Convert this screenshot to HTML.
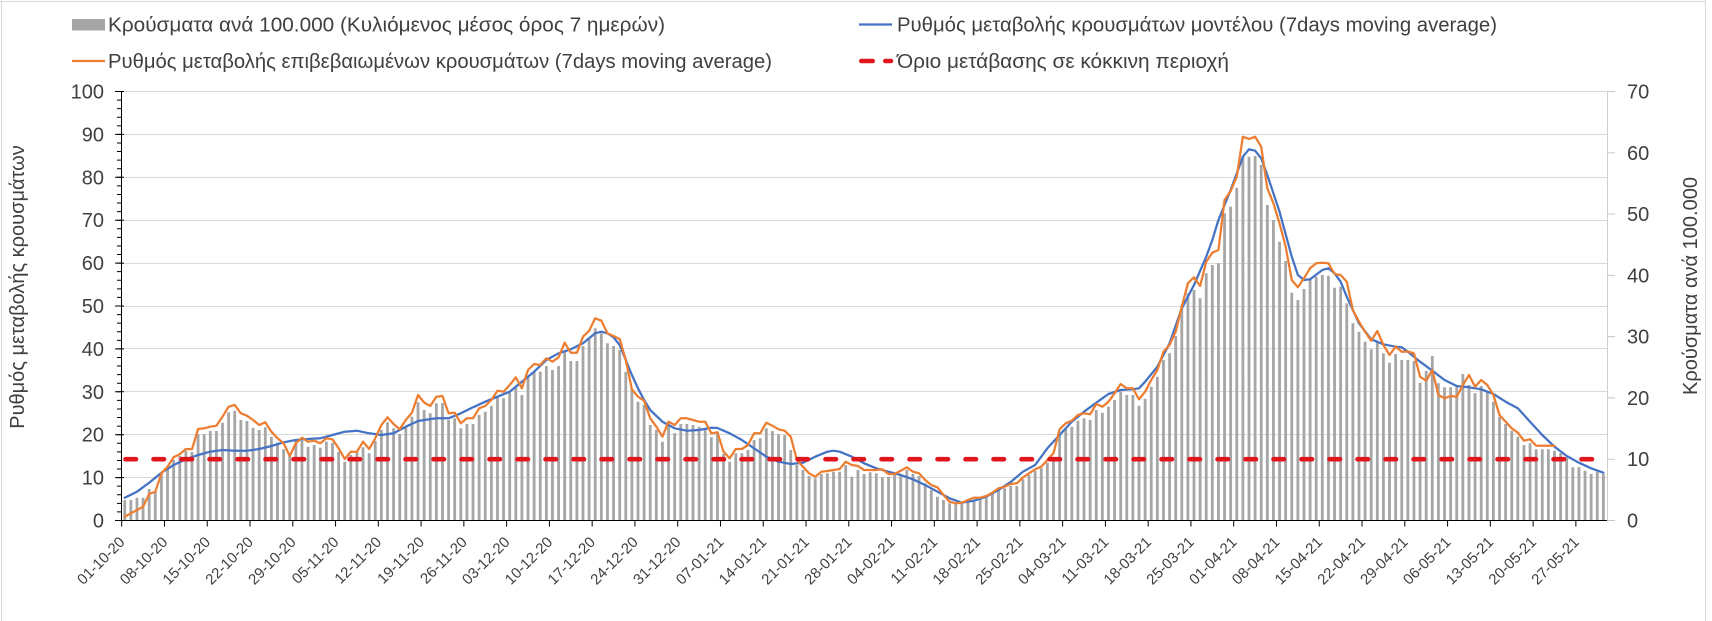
<!DOCTYPE html>
<html><head><meta charset="utf-8">
<style>
html,body{margin:0;padding:0;background:#fff;width:1712px;height:621px;overflow:hidden}
svg{display:block}
text{font-family:"Liberation Sans","DejaVu Sans",sans-serif;fill:#404040}
</style></head>
<body>
<svg width="1712" height="621" viewBox="0 0 1712 621" xmlns="http://www.w3.org/2000/svg">
<rect x="0" y="0" width="1712" height="621" fill="#fff"/>
<!-- frame -->
<path d="M1.5 0V621M0 1.5H1706M1705.5 0V621" stroke="#d9d9d9" stroke-width="1" fill="none"/>

<!-- gridlines -->
<path d="M121.7 477.5H1607M121.7 434.5H1607M121.7 391.5H1607M121.7 348.5H1607M121.7 306.5H1607M121.7 263.5H1607M121.7 220.5H1607M121.7 177.5H1607M121.7 134.5H1607M121.7 91.5H1607" stroke="#d9d9d9" stroke-width="1" fill="none"/>

<g transform="translate(121.7,0) scale(6.11,1)">
<path fill="#a6a6a6" d="M0.27 520.5V500h.46V520.5zm1 0V500h.46V520.5zm1 0V497.7h.46V520.5zm1 0V497.7h.46V520.5zm1 0V489h.46V520.5zm1 0V491.7h.46V520.5zm1 0V473.3h.46V520.5zm1 0V468.3h.46V520.5zm1 0V460h.46V520.5zm1 0V456h.46V520.5zm1 0V451h.46V520.5zm1 0V452h.46V520.5zm1 0V434h.46V520.5zm1 0V434h.46V520.5zm1 0V431h.46V520.5zm1 0V431h.46V520.5zm1 0V422.7h.46V520.5zm1 0V412.3h.46V520.5zm1 0V410.7h.46V520.5zm1 0V420h.46V520.5zm1 0V421h.46V520.5zm1 0V427.7h.46V520.5zm1 0V430h.46V520.5zm1 0V427.3h.46V520.5zm1 0V436.7h.46V520.5zm1 0V442.7h.46V520.5zm1 0V449.3h.46V520.5zm1 0V456h.46V520.5zm1 0V440h.46V520.5zm1 0V441h.46V520.5zm1 0V446.7h.46V520.5zm1 0V445h.46V520.5zm1 0V447.7h.46V520.5zm1 0V441.7h.46V520.5zm1 0V442.7h.46V520.5zm1 0V451.7h.46V520.5zm1 0V461.7h.46V520.5zm1 0V455h.46V520.5zm1 0V451.7h.46V520.5zm1 0V447.3h.46V520.5zm1 0V453.3h.46V520.5zm1 0V441h.46V520.5zm1 0V430h.46V520.5zm1 0V422.3h.46V520.5zm1 0V428.3h.46V520.5zm1 0V434.3h.46V520.5zm1 0V426h.46V520.5zm1 0V416.7h.46V520.5zm1 0V402.3h.46V520.5zm1 0V410h.46V520.5zm1 0V413.3h.46V520.5zm1 0V403.3h.46V520.5zm1 0V403h.46V520.5zm1 0V420h.46V520.5zm1 0V418.3h.46V520.5zm1 0V428.3h.46V520.5zm1 0V424h.46V520.5zm1 0V424h.46V520.5zm1 0V415h.46V520.5zm1 0V411.7h.46V520.5zm1 0V406h.46V520.5zm1 0V396.7h.46V520.5zm1 0V398.3h.46V520.5zm1 0V392.7h.46V520.5zm1 0V387.3h.46V520.5zm1 0V395h.46V520.5zm1 0V377.3h.46V520.5zm1 0V371.7h.46V520.5zm1 0V371.7h.46V520.5zm1 0V366h.46V520.5zm1 0V370h.46V520.5zm1 0V366h.46V520.5zm1 0V351.7h.46V520.5zm1 0V361h.46V520.5zm1 0V361h.46V520.5zm1 0V346h.46V520.5zm1 0V338.3h.46V520.5zm1 0V328.3h.46V520.5zm1 0V333.3h.46V520.5zm1 0V343.3h.46V520.5zm1 0V346h.46V520.5zm1 0V350h.46V520.5zm1 0V371.7h.46V520.5zm1 0V389.3h.46V520.5zm1 0V401.7h.46V520.5zm1 0V405h.46V520.5zm1 0V425h.46V520.5zm1 0V430h.46V520.5zm1 0V441.7h.46V520.5zm1 0V425h.46V520.5zm1 0V433.3h.46V520.5zm1 0V424h.46V520.5zm1 0V424h.46V520.5zm1 0V425h.46V520.5zm1 0V426.7h.46V520.5zm1 0V428.3h.46V520.5zm1 0V437.3h.46V520.5zm1 0V431.7h.46V520.5zm1 0V454h.46V520.5zm1 0V461.7h.46V520.5zm1 0V453.3h.46V520.5zm1 0V453.3h.46V520.5zm1 0V450h.46V520.5zm1 0V440h.46V520.5zm1 0V438.3h.46V520.5zm1 0V428.3h.46V520.5zm1 0V431h.46V520.5zm1 0V434h.46V520.5zm1 0V435h.46V520.5zm1 0V450h.46V520.5zm1 0V465h.46V520.5zm1 0V470h.46V520.5zm1 0V476h.46V520.5zm1 0V478.3h.46V520.5zm1 0V474h.46V520.5zm1 0V473.3h.46V520.5zm1 0V471.7h.46V520.5zm1 0V471.7h.46V520.5zm1 0V465h.46V520.5zm1 0V476.7h.46V520.5zm1 0V470h.46V520.5zm1 0V474h.46V520.5zm1 0V472.3h.46V520.5zm1 0V473.3h.46V520.5zm1 0V477.3h.46V520.5zm1 0V476.7h.46V520.5zm1 0V475h.46V520.5zm1 0V474h.46V520.5zm1 0V470h.46V520.5zm1 0V474h.46V520.5zm1 0V476h.46V520.5zm1 0V483.3h.46V520.5zm1 0V490h.46V520.5zm1 0V496.7h.46V520.5zm1 0V500h.46V520.5zm1 0V503.3h.46V520.5zm1 0V503.3h.46V520.5zm1 0V503.3h.46V520.5zm1 0V502.3h.46V520.5zm1 0V501.7h.46V520.5zm1 0V498.3h.46V520.5zm1 0V496.7h.46V520.5zm1 0V493.3h.46V520.5zm1 0V488.3h.46V520.5zm1 0V488.3h.46V520.5zm1 0V486h.46V520.5zm1 0V486h.46V520.5zm1 0V479.3h.46V520.5zm1 0V475h.46V520.5zm1 0V471h.46V520.5zm1 0V468.3h.46V520.5zm1 0V462.7h.46V520.5zm1 0V458.3h.46V520.5zm1 0V435h.46V520.5zm1 0V428.3h.46V520.5zm1 0V426.7h.46V520.5zm1 0V420.7h.46V520.5zm1 0V418.3h.46V520.5zm1 0V420h.46V520.5zm1 0V410h.46V520.5zm1 0V412.7h.46V520.5zm1 0V406.7h.46V520.5zm1 0V400h.46V520.5zm1 0V391.7h.46V520.5zm1 0V395h.46V520.5zm1 0V395h.46V520.5zm1 0V405.7h.46V520.5zm1 0V398.7h.46V520.5zm1 0V386.7h.46V520.5zm1 0V376.7h.46V520.5zm1 0V360h.46V520.5zm1 0V353.3h.46V520.5zm1 0V336h.46V520.5zm1 0V305h.46V520.5zm1 0V293.3h.46V520.5zm1 0V290h.46V520.5zm1 0V298.3h.46V520.5zm1 0V273.3h.46V520.5zm1 0V265h.46V520.5zm1 0V263.3h.46V520.5zm1 0V213.3h.46V520.5zm1 0V206.7h.46V520.5zm1 0V187.7h.46V520.5zm1 0V156.7h.46V520.5zm1 0V156.7h.46V520.5zm1 0V156h.46V520.5zm1 0V165h.46V520.5zm1 0V205h.46V520.5zm1 0V220h.46V520.5zm1 0V241.7h.46V520.5zm1 0V261h.46V520.5zm1 0V292.7h.46V520.5zm1 0V300h.46V520.5zm1 0V289h.46V520.5zm1 0V280h.46V520.5zm1 0V276.7h.46V520.5zm1 0V275h.46V520.5zm1 0V275.7h.46V520.5zm1 0V287.7h.46V520.5zm1 0V286.7h.46V520.5zm1 0V303.3h.46V520.5zm1 0V323.3h.46V520.5zm1 0V331.7h.46V520.5zm1 0V341.7h.46V520.5zm1 0V349.3h.46V520.5zm1 0V341.7h.46V520.5zm1 0V353.3h.46V520.5zm1 0V362.7h.46V520.5zm1 0V354h.46V520.5zm1 0V360h.46V520.5zm1 0V360h.46V520.5zm1 0V361h.46V520.5zm1 0V382.7h.46V520.5zm1 0V371h.46V520.5zm1 0V356h.46V520.5zm1 0V383.3h.46V520.5zm1 0V387.3h.46V520.5zm1 0V387.3h.46V520.5zm1 0V385h.46V520.5zm1 0V374h.46V520.5zm1 0V385h.46V520.5zm1 0V393.3h.46V520.5zm1 0V386h.46V520.5zm1 0V391.7h.46V520.5zm1 0V401.7h.46V520.5zm1 0V416.7h.46V520.5zm1 0V424h.46V520.5zm1 0V430.7h.46V520.5zm1 0V436.7h.46V520.5zm1 0V445h.46V520.5zm1 0V443.3h.46V520.5zm1 0V449.3h.46V520.5zm1 0V449.3h.46V520.5zm1 0V449.3h.46V520.5zm1 0V450.7h.46V520.5zm1 0V453.3h.46V520.5zm1 0V456.7h.46V520.5zm1 0V467.3h.46V520.5zm1 0V467.3h.46V520.5zm1 0V470.7h.46V520.5zm1 0V474h.46V520.5zm1 0V471.7h.46V520.5zm1 0V474h.46V520.5z"/>

<polyline fill="none" stroke="#4472c4" stroke-width="2.25" stroke-linejoin="round" stroke-linecap="round" vector-effect="non-scaling-stroke" points="0.5,497.7 2.5,491.7 4.5,482.7 6.5,472.7 8.5,465 10.5,459.3 12.5,455 14.5,451.7 16.5,450 18.5,450.7 20.5,450.7 22.5,449 24.5,446 26.5,442.3 28.5,440 30.5,439 32.5,438.3 34.5,435 36.5,431.7 38.5,430.7 40.5,433.3 42.5,435 44.5,433.3 46.5,426.7 48.5,421 49.5,420 51.5,418.3 53.5,418.3 55.5,413.3 57.5,407.3 59.5,401.7 61.5,396.7 63.5,391.7 65.5,381.7 67.5,371.7 69.5,360 71.5,353.3 73.5,349.3 75.5,343.3 77.5,333.3 78.5,331.7 79.5,333.3 80.5,337.3 81.5,345 82.5,360 83.5,375 84.5,388.3 85.5,400 86.5,410 88.5,421.7 90.5,428.3 92.5,430.7 94.5,430 96.5,427.7 97.5,428 99.5,433.3 101.5,440 103.5,448.3 105.5,456.7 107.5,461.7 109.5,464 111.5,462.7 113.5,456.7 115.5,451.7 116.5,450.7 117.5,451.7 119.5,456.7 121.5,463.3 123.5,468.3 125.5,471.7 127.5,475 129.5,479.3 131.5,485 133.5,491.7 135.5,498.3 137.5,502.7 139.5,500.7 141.5,496.7 143.5,490 145.5,482 147.5,471.7 149.5,465 151.5,448.3 153.5,435 155.5,421.7 157.5,411.7 159.5,402.7 161.5,394 163.5,390 165.5,389.3 166.5,388.3 167.5,381.7 169.5,366.7 171.5,343.3 173.5,308.3 175.5,285 177.5,256.7 178.5,240 179.5,220 181.5,190 183.5,156.7 184.5,149.3 185.5,150.7 186.5,158.3 187.5,175 189.5,211.7 191.5,256.7 192.5,275 193.5,280 194.5,279.3 196.5,270 197.5,268.3 198.5,273.3 199.5,281.7 200.5,296.7 202.5,323.3 204.5,339.3 206.5,344.3 208.5,346.7 209.5,347.3 210.5,351.7 212.5,361.7 214.5,370.7 216.5,380 218.5,386 220.5,387.3 222.5,389.3 224.5,394 226.5,401.7 228.5,408.3 230.5,421.7 232.5,435 234.5,446.7 236.5,456 238.5,462.7 240.5,468.3 242.5,472.7"/>

<polyline fill="none" stroke="#ed7d31" stroke-width="2.25" stroke-linejoin="round" stroke-linecap="round" vector-effect="non-scaling-stroke" points="0.5,516.7 1.5,513.3 2.5,510 3.5,506.7 4.5,494 5.5,491.7 6.5,473.3 7.5,466.7 8.5,457.3 9.5,454.3 10.5,449 11.5,449.3 12.5,429 13.5,428.3 14.5,426.7 15.5,425.7 16.5,416.7 17.5,406.7 18.5,405 19.5,413.3 20.5,415.7 21.5,420 22.5,425 23.5,422.3 24.5,431.7 25.5,438.3 26.5,443.3 27.5,456 28.5,443.3 29.5,437.7 30.5,441.7 31.5,440.7 32.5,443.3 33.5,438.3 34.5,439.3 35.5,448.3 36.5,459 37.5,451.7 38.5,451.7 39.5,441.7 40.5,449 41.5,438.3 42.5,425 43.5,417.3 44.5,424 45.5,429.3 46.5,420 47.5,412.7 48.5,395 49.5,402.5 50.5,406 51.5,396.7 52.5,396 53.5,413.3 54.5,412.7 55.5,423.3 56.5,418.3 57.5,418.3 58.5,408.3 59.5,406 60.5,400 61.5,390.7 62.5,391.7 63.5,385 64.5,377.3 65.5,388.3 66.5,370 67.5,364 68.5,365 69.5,358.3 70.5,361.7 71.5,357.3 72.5,342.7 73.5,352.7 74.5,352.7 75.5,336.7 76.5,330.7 77.5,318.3 78.5,320.7 79.5,333.3 80.5,336 81.5,339 82.5,360 83.5,389.3 84.5,396.7 85.5,400.7 86.5,418.3 87.5,426.7 88.5,436.7 89.5,421.7 90.5,425 91.5,418.3 92.5,418.3 93.5,420 94.5,421.7 95.5,421.7 96.5,433.3 97.5,432.3 98.5,451.7 99.5,458.3 100.5,449 101.5,449 102.5,445 103.5,433.3 104.5,433.3 105.5,422.7 106.5,425.7 107.5,429.3 108.5,430.7 109.5,436.7 110.5,460 111.5,466.7 112.5,473.3 113.5,476.7 114.5,471.7 115.5,471 116.5,470 117.5,469 118.5,461.7 119.5,465 120.5,466 121.5,470 122.5,470 123.5,470 124.5,469.3 125.5,474 126.5,474 127.5,470.7 128.5,467.3 129.5,471.7 130.5,473.3 131.5,480 132.5,485 133.5,487.3 134.5,495 135.5,501.7 136.5,503.3 137.5,502.7 138.5,500 139.5,497.7 140.5,497.7 141.5,496 142.5,492.7 143.5,488.3 144.5,486.7 145.5,484 146.5,483.3 147.5,477.5 148.5,473.3 149.5,469.3 150.5,466.7 151.5,460 152.5,453.3 153.5,429.3 154.5,423.3 155.5,420.7 156.5,415 157.5,413.3 158.5,414.3 159.5,404 160.5,406.7 161.5,401.7 162.5,393.3 163.5,384 164.5,388.3 165.5,388.3 166.5,399.3 167.5,391.7 168.5,380 169.5,370 170.5,351.7 171.5,345 172.5,331.7 173.5,306.7 174.5,283.3 175.5,277.3 176.5,286 177.5,261.7 178.5,252.7 179.5,250 180.5,200 181.5,191 182.5,176.7 183.5,136.7 184.5,139 185.5,136.7 186.5,146.7 187.5,188.3 188.5,203.3 189.5,223.3 190.5,246.7 191.5,280 192.5,287.3 193.5,278.3 194.5,268.3 195.5,263.3 196.5,262.7 197.5,263.3 198.5,274 199.5,275 200.5,281.7 201.5,310 202.5,321.7 203.5,331.7 204.5,340.7 205.5,331 206.5,345 207.5,355 208.5,346.7 209.5,351.7 210.5,351.5 211.5,353.3 212.5,376.7 213.5,380.7 214.5,370 215.5,395 216.5,398.3 217.5,396 218.5,396.7 219.5,385 220.5,375 221.5,386.7 222.5,380 223.5,385 224.5,395 225.5,415 226.5,421.7 227.5,428.3 228.5,432.7 229.5,440.7 230.5,439.3 231.5,445.7 232.5,445.7 233.5,445.7 234.5,445.7"/>
</g>

<!-- red threshold line -->
<path d="M125.5 459.2H1600" stroke="#e0161c" stroke-width="4.6" stroke-dasharray="10.5 17.5" stroke-linecap="round" fill="none"/>

<!-- axes -->
<path d="M121.5 91V521" stroke="#000" stroke-width="1" fill="none"/>
<path d="M121 520.5H1607" stroke="#000" stroke-width="1" fill="none"/>
<path d="M1607.5 91.5V520.5" stroke="#cfcfcf" stroke-width="1" fill="none"/>
<!-- left ticks -->
<path d="M119.5 521V90" stroke="#000" stroke-width="9" stroke-dasharray="1 41.9" fill="none"/>
<path d="M119.5 521V90" stroke="#000" stroke-width="5" stroke-dasharray="1 7.58" fill="none"/>
<!-- right ticks -->
<path d="M1611 521V90" stroke="#c8c8c8" stroke-width="8" stroke-dasharray="1 60.29" fill="none"/>
<!-- bottom ticks -->
<path d="M121.2 523.5H1578" stroke="#000" stroke-width="6" stroke-dasharray="1 41.77" fill="none"/>

<!-- left tick labels -->
<g font-size="20" text-anchor="end">
<text x="104" y="527.5">0</text>
<text x="104" y="484.6">10</text>
<text x="104" y="441.7">20</text>
<text x="104" y="398.8">30</text>
<text x="104" y="355.9">40</text>
<text x="104" y="313">50</text>
<text x="104" y="270.1">60</text>
<text x="104" y="227.2">70</text>
<text x="104" y="184.3">80</text>
<text x="104" y="141.4">90</text>
<text x="104" y="98.5">100</text>
</g>
<!-- right tick labels -->
<g font-size="20">
<text x="1627" y="527.5">0</text>
<text x="1627" y="466.2">10</text>
<text x="1627" y="404.9">20</text>
<text x="1627" y="343.6">30</text>
<text x="1627" y="282.3">40</text>
<text x="1627" y="221">50</text>
<text x="1627" y="159.8">60</text>
<text x="1627" y="98.5">70</text>
</g>

<!-- axis titles -->
<text font-size="20" text-anchor="middle" transform="translate(24,287) rotate(-90)">Ρυθμός μεταβολής κρουσμάτων</text>
<text font-size="20" text-anchor="middle" transform="translate(1697,286) rotate(-90)">Κρούσματα ανά 100.000</text>

<!-- x labels -->
<g font-size="15" text-anchor="end">
<text transform="translate(125.7,543) rotate(-45)">01-10-20</text>
<text transform="translate(168.5,543) rotate(-45)">08-10-20</text>
<text transform="translate(211.2,543) rotate(-45)">15-10-20</text>
<text transform="translate(254,543) rotate(-45)">22-10-20</text>
<text transform="translate(296.8,543) rotate(-45)">29-10-20</text>
<text transform="translate(339.6,543) rotate(-45)">05-11-20</text>
<text transform="translate(382.3,543) rotate(-45)">12-11-20</text>
<text transform="translate(425.1,543) rotate(-45)">19-11-20</text>
<text transform="translate(467.9,543) rotate(-45)">26-11-20</text>
<text transform="translate(510.6,543) rotate(-45)">03-12-20</text>
<text transform="translate(553.4,543) rotate(-45)">10-12-20</text>
<text transform="translate(596.2,543) rotate(-45)">17-12-20</text>
<text transform="translate(638.9,543) rotate(-45)">24-12-20</text>
<text transform="translate(681.7,543) rotate(-45)">31-12-20</text>
<text transform="translate(724.5,543) rotate(-45)">07-01-21</text>
<text transform="translate(767.3,543) rotate(-45)">14-01-21</text>
<text transform="translate(810,543) rotate(-45)">21-01-21</text>
<text transform="translate(852.8,543) rotate(-45)">28-01-21</text>
<text transform="translate(895.6,543) rotate(-45)">04-02-21</text>
<text transform="translate(938.3,543) rotate(-45)">11-02-21</text>
<text transform="translate(981.1,543) rotate(-45)">18-02-21</text>
<text transform="translate(1023.9,543) rotate(-45)">25-02-21</text>
<text transform="translate(1066.6,543) rotate(-45)">04-03-21</text>
<text transform="translate(1109.4,543) rotate(-45)">11-03-21</text>
<text transform="translate(1152.2,543) rotate(-45)">18-03-21</text>
<text transform="translate(1194.9,543) rotate(-45)">25-03-21</text>
<text transform="translate(1237.7,543) rotate(-45)">01-04-21</text>
<text transform="translate(1280.5,543) rotate(-45)">08-04-21</text>
<text transform="translate(1323.3,543) rotate(-45)">15-04-21</text>
<text transform="translate(1366,543) rotate(-45)">22-04-21</text>
<text transform="translate(1408.8,543) rotate(-45)">29-04-21</text>
<text transform="translate(1451.6,543) rotate(-45)">06-05-21</text>
<text transform="translate(1494.3,543) rotate(-45)">13-05-21</text>
<text transform="translate(1537.1,543) rotate(-45)">20-05-21</text>
<text transform="translate(1579.9,543) rotate(-45)">27-05-21</text>
</g>

<!-- legend -->
<rect x="72" y="19" width="33" height="11.5" fill="#a6a6a6"/>
<text x="108" y="31.5" font-size="20" textLength="557" lengthAdjust="spacingAndGlyphs">Κρούσματα ανά 100.000 (Κυλιόμενος μέσος όρος 7 ημερών)</text>
<path d="M72 61H105" stroke="#ed7d31" stroke-width="2.25"/>
<text x="108" y="68" font-size="20" textLength="664" lengthAdjust="spacingAndGlyphs">Ρυθμός μεταβολής επιβεβαιωμένων κρουσμάτων (7days moving average)</text>
<path d="M859 24.5H892" stroke="#4472c4" stroke-width="2.25"/>
<text x="897" y="31.5" font-size="20" textLength="600" lengthAdjust="spacingAndGlyphs">Ρυθμός μεταβολής κρουσμάτων μοντέλου (7days moving average)</text>
<path d="M861.3 61H872.7M885.3 61H891" stroke="#e0161c" stroke-width="4.6" stroke-linecap="round"/>
<text x="897" y="68" font-size="20" textLength="332" lengthAdjust="spacingAndGlyphs">Όριο μετάβασης σε κόκκινη περιοχή</text>
</svg>
</body></html>
